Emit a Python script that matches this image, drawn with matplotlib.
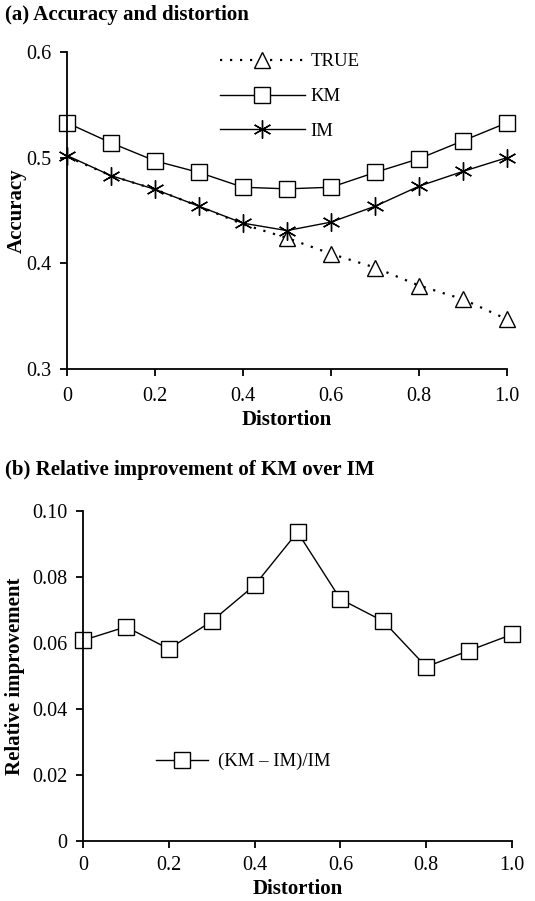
import matplotlib
matplotlib.use('Agg')
import matplotlib.pyplot as plt

plt.rcParams['font.family'] = ['Liberation Serif', 'DejaVu Serif']

distortion = [0, 0.1, 0.2, 0.3, 0.4, 0.5, 0.6, 0.7, 0.8, 0.9, 1.0]
acc_true = [0.501, 0.483, 0.470, 0.454, 0.437, 0.424, 0.409, 0.396, 0.379, 0.366, 0.347]
acc_km = [0.533, 0.514, 0.497, 0.486, 0.472, 0.4705, 0.472, 0.486, 0.499, 0.516, 0.533]
acc_im = [0.502, 0.483, 0.470, 0.454, 0.438, 0.431, 0.439, 0.454, 0.473, 0.487, 0.500]
rel_improvement = [0.0608, 0.0649, 0.0582, 0.0666, 0.0775, 0.0936, 0.0733, 0.0666, 0.0528, 0.0577, 0.0626]

x_ticks = [0, 0.2, 0.4, 0.6, 0.8, 1.0]
x_tick_labels = ['0', '0.2', '0.4', '0.6', '0.8', '1.0']
acc_ticks = [0.3, 0.4, 0.5, 0.6]
acc_tick_labels = ['0.3', '0.4', '0.5', '0.6']
rel_ticks = [0, 0.02, 0.04, 0.06, 0.08, 0.10]
rel_tick_labels = ['0', '0.02', '0.04', '0.06', '0.08', '0.10']

W, H = 535, 901
TICK_FS = 14.5
LABEL_FS = 15.0
LEGEND_FS = 13.5


def style_axes(ax):
    for side in ['top', 'right']:
        ax.spines[side].set_visible(False)
    for side in ['left', 'bottom']:
        ax.spines[side].set_linewidth(1.3)
    ax.tick_params(direction='out', length=5, width=1.3, labelsize=TICK_FS, pad=6)
    ax.set_xlim(0, 1.0)
    ax.set_xticks(x_ticks)
    ax.set_xticklabels(x_tick_labels)
    ax.set_xlabel('Distortion', fontsize=LABEL_FS, fontweight='bold', labelpad=3)


fig = plt.figure(figsize=(W / 100, H / 100), dpi=100)

# (a) accuracy vs distortion
ax1 = fig.add_axes([67 / W, 1 - 369 / H, 440 / W, 317 / H])
style_axes(ax1)
ax1.tick_params(axis='x', pad=8)
ax1.set_ylim(0.3, 0.6)
ax1.set_yticks(acc_ticks)
ax1.set_yticklabels(acc_tick_labels)
ax1.set_ylabel('Accuracy', fontsize=LABEL_FS, fontweight='bold')
ax1.yaxis.set_label_coords(-0.092, 0.5)

ax1.plot(distortion, acc_true, color='black', lw=1.6, ls=(0, (1, 3.5)),
         marker='^', ms=11, mfc='white', mec='black', mew=1.0,
         markevery=list(range(5, 11)), label='TRUE', clip_on=False)
ax1.plot(distortion, acc_km, color='black', lw=1.0,
         marker='s', ms=11, mfc='white', mec='black', mew=1.0,
         label='KM', clip_on=False)
ax1.plot(distortion, acc_im, color='black', lw=1.0,
         marker=(6, 2, 0), ms=13, mec='black', mew=1.0,
         label='IM', clip_on=False)
ax1.legend(loc='upper left', bbox_to_anchor=(0.31, 1.05), frameon=False,
           fontsize=LEGEND_FS, handlelength=4.5, handletextpad=0.3, labelspacing=0.95)
fig.text(5 / W, 1 - 15 / H, '(a) Accuracy and distortion', fontsize=LABEL_FS,
         fontweight='bold', va='center', ha='left')

# (b) relative improvement of KM over IM
ax2 = fig.add_axes([83 / W, 1 - 841 / H, 429 / W, 330 / H])
style_axes(ax2)
ax2.set_ylim(0, 0.10)
ax2.set_yticks(rel_ticks)
ax2.set_yticklabels(rel_tick_labels)
ax2.set_ylabel('Relative improvement', fontsize=LABEL_FS, fontweight='bold')
ax2.yaxis.set_label_coords(-0.135, 0.5)
ax2.plot(distortion, rel_improvement, color='black', lw=1.0,
         marker='s', ms=11, mfc='white', mec='black', mew=1.0,
         label='(KM \u2013 IM)/IM', clip_on=False)
ax2.legend(loc='center left', bbox_to_anchor=(0.13, 0.24), frameon=False,
           fontsize=LEGEND_FS, handlelength=2.8, handletextpad=0.5)
fig.text(5 / W, 1 - 470 / H, '(b) Relative improvement of KM over IM', fontsize=LABEL_FS,
         fontweight='bold', va='center', ha='left')

fig.savefig('out.png', dpi=100)
